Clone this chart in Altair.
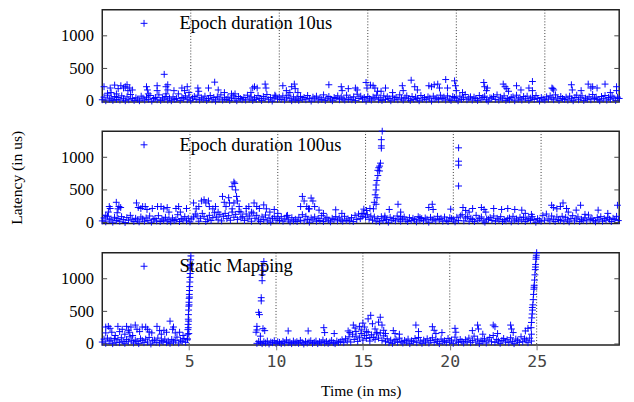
import altair as alt
import pandas as pd

PLUS = "M-1,0H1M0,-1V1"
STEP = 0.1
W, H = 532, 95
X_TICKS = [5, 10, 15, 20, 25]
Y_TICKS = [0, 500, 1000]
Y_DOMAIN = [-15, 1400]
NAMES = ["Epoch duration 10us", "Epoch duration 100us", "Static Mapping"]
X_DOMAINS = [[0, 29.2], [0, 29.45], [0, 29.75]]

# ---------- panel 1 : Epoch duration 10us ----------
p1_base = [
    20, 60, 5, 90, 30, 45, 10, 70, 25, 55,
    15, 80, 35, 5, 65, 20, 100, 40, 10, 50,
    30, 5, 75, 45, 15, 60, 25, 85, 0, 40,
    55, 20, 95, 10, 50, 30, 70, 15, 45, 5,
    65, 25, 40, 110, 10, 55, 35, 80, 20, 60,
    5, 45, 70, 25, 90, 15, 50, 30, 75, 10,
    40, 85, 20, 55, 0, 65, 30, 95, 15, 50,
    25, 60, 10, 45, 80, 35, 5, 70, 40, 20,
    55, 15, 90, 30, 65, 10, 50, 25, 85, 40,
    10, 70, 35, 100, 20, 55, 0, 45, 75, 30,
    60, 25, 80, 15, 50, 90, 35, 5, 65, 20,
    45, 10, 70, 30, 55, 20, 85, 40, 0, 60,
    35, 75, 15, 50, 25, 95, 10, 45, 70, 30,
    5, 55, 40, 80, 20, 60, 35, 15, 90, 25,
    50, 20, 65, 10, 105, 40, 75, 30, 55, 0,
    70, 35, 15, 60, 45, 90, 20, 50, 10, 80,
    25, 65, 40, 5, 75, 30, 55, 20, 95, 45,
    15, 50, 80, 35, 10, 70, 25, 60, 40, 5,
    85, 30, 55, 20, 65, 45, 0, 75, 35, 50,
    20, 90, 40, 60, 15, 80, 30, 10, 70, 55,
    35, 5, 75, 25, 50, 100, 20, 45, 65, 15,
    60, 40, 10, 85, 30, 55, 75, 20, 0, 50,
    45, 70, 25, 95, 15, 60, 35, 80, 10, 40,
    20, 55, 65, 5, 90, 30, 50, 15, 70, 35,
    75, 10, 45, 60, 25, 85, 40, 0, 55, 30,
    15, 65, 30, 80, 50, 20, 95, 45, 10, 70,
    40, 25, 60, 15, 75, 35, 5, 55, 90, 20,
    50, 80, 10, 45, 30, 65, 20, 100, 40, 60,
    25, 5, 70, 35, 85, 15, 55, 30, 75, 45,
    10, 60, 40,
]
p1_spikes = [
    (0.1, 220), (0.3, 120), (0.45, 200), (0.7, 245), (0.9, 190), (1.05, 235),
    (1.2, 200), (1.3, 220), (1.45, 160), (1.4, 250), (1.55, 200), (1.7, 170),
    (0.5, 130), (0.8, 110), (2.5, 220), (2.55, 170), (2.6, 110), (3.1, 235),
    (3.1, 160), (3.5, 410), (3.6, 220), (3.7, 250), (3.7, 170), (3.6, 110),
    (4.05, 160), (4.5, 200), (4.65, 160), (4.8, 220), (4.9, 130), (5.4, 200),
    (5.45, 150), (6.0, 200), (6.35, 290), (6.55, 170), (6.9, 130), (7.3, 110),
    (7.5, 110), (8.5, 200), (8.6, 220), (8.75, 200), (8.4, 130), (9.2, 260),
    (9.25, 200), (9.75, 90), (10.2, 235), (10.4, 160), (10.7, 220), (10.85, 260),
    (11.05, 130), (10.9, 190), (10.6, 130), (12.8, 250), (13.5, 220), (13.55, 160),
    (13.9, 190), (14.3, 200), (14.4, 170), (14.9, 285), (14.95, 200), (15.15, 245),
    (15.3, 235), (15.4, 200), (15.55, 150), (15.75, 150), (16.0, 200), (16.4, 130),
    (16.95, 235), (17.0, 160), (17.45, 320), (17.65, 220), (17.8, 170), (18.45, 235),
    (18.6, 220), (18.75, 250), (18.95, 260), (19.05, 200), (19.4, 330), (19.5, 200),
    (19.9, 310), (19.95, 235), (20.0, 160), (20.35, 130), (21.55, 285), (21.6, 220),
    (21.7, 160), (21.75, 200), (22.65, 260), (22.75, 220), (22.85, 190), (22.95, 150),
    (23.4, 235), (23.65, 170), (24.1, 200), (24.3, 300), (24.3, 160), (25.4, 200),
    (25.5, 170), (25.45, 190), (26.5, 250), (26.55, 170), (27.05, 160), (27.45, 260),
    (27.6, 200), (27.7, 220), (27.95, 200), (28.4, 260), (28.7, 130), (29.05, 220),
    (29.05, 160),
]

# ---------- panel 2 : Epoch duration 100us ----------
p2_base = [
    25, 70, 10, 95, 40, 55, 5, 80, 30, 60,
    20, 90, 45, 0, 75, 35, 110, 50, 15, 65,
    40, 10, 85, 55, 20, 70, 30, 100, 5, 50,
    60, 25, 105, 15, 55, 35, 80, 20, 50, 10,
    70, 30, 45, 120, 15, 60, 40, 90, 25, 65,
    10, 55, 85, 130, 100, 20, 65, 140, 90, 15,
    50, 110, 30, 75, 150, 85, 40, 120, 25, 95,
    140, 60, 105, 35, 160, 80, 125, 45, 170, 70,
    90, 30, 130, 55, 100, 20, 145, 65, 110, 40,
    15, 85, 45, 115, 25, 70, 5, 60, 95, 35,
    65, 30, 90, 20, 55, 100, 40, 10, 75, 25,
    50, 15, 80, 35, 120, 25, 95, 45, 5, 70,
    40, 85, 20, 60, 30, 105, 15, 55, 80, 35,
    10, 65, 45, 90, 25, 70, 40, 20, 95, 30,
    55, 25, 75, 15, 110, 45, 130, 60, 90, 140,
    80, 120, 50, 100, 35, 85, 20, 60, 10, 90,
    30, 70, 45, 5, 80, 35, 60, 25, 100, 50,
    20, 55, 85, 40, 15, 75, 30, 65, 45, 10,
    90, 35, 60, 25, 70, 50, 5, 80, 40, 55,
    25, 95, 45, 65, 20, 85, 35, 15, 75, 60,
    40, 10, 80, 30, 100, 120, 25, 70, 90, 20,
    65, 45, 15, 110, 35, 60, 85, 25, 5, 55,
    50, 75, 30, 100, 20, 65, 40, 90, 15, 45,
    25, 60, 70, 10, 95, 35, 55, 20, 80, 40,
    80, 15, 50, 65, 30, 90, 45, 5, 60, 35,
    20, 110, 35, 130, 55, 25, 100, 50, 15, 85,
    45, 30, 95, 20, 80, 40, 10, 60, 105, 25,
    55, 85, 15, 50, 35, 70, 25, 115, 45, 65,
    30, 10, 75, 40, 90, 20, 60, 35, 80, 50,
    15, 65, 45, 95, 30,
]
p2_spikes = [
    (0.2, 110), (0.4, 245), (0.45, 215), (0.35, 160), (0.8, 310), (0.9, 210),
    (0.95, 245), (1.05, 230), (0.85, 150), (1.95, 300), (2.05, 230), (2.2, 215),
    (2.3, 245), (2.45, 245), (2.55, 200), (2.85, 215), (3.15, 245), (3.35, 245),
    (3.5, 210), (3.7, 230), (3.8, 160), (4.2, 215), (4.35, 245), (4.45, 160),
    (4.8, 215), (5.2, 300), (5.35, 210), (5.5, 245), (5.65, 330), (5.8, 350),
    (5.9, 300), (6.05, 330), (6.1, 245), (6.3, 210), (6.45, 245), (6.6, 160),
    (6.85, 400), (6.95, 310), (7.05, 245), (7.2, 380), (7.25, 300), (7.4, 550),
    (7.5, 620), (7.55, 600), (7.6, 500), (7.65, 400), (7.7, 330), (7.5, 300),
    (7.4, 210), (7.8, 245), (7.9, 160), (8.2, 215), (8.35, 245), (8.5, 160),
    (8.65, 300), (8.8, 245), (8.95, 215), (9.2, 270), (9.35, 210), (9.55, 160),
    (9.8, 200), (10.0, 140), (10.55, 110), (11.3, 245), (11.4, 400), (11.5, 330),
    (11.65, 245), (11.8, 210), (11.9, 375), (12.0, 330), (12.1, 245), (11.75, 210),
    (12.35, 190), (12.6, 140), (13.3, 195), (13.65, 140), (14.9, 205), (15.05, 185),
    (15.25, 215), (14.8, 140), (15.45, 210), (15.5, 310), (15.55, 425), (15.6, 500),
    (15.6, 575), (15.65, 645), (15.7, 720), (15.7, 800), (15.75, 840), (15.8, 865),
    (15.85, 910), (15.8, 790), (15.65, 380), (15.6, 280), (15.9, 1175), (15.9, 1270),
    (15.95, 1400), (15.9, 1140), (16.1, 100), (16.35, 200), (16.85, 280), (17.0, 160),
    (17.0, 90), (18.1, 75), (18.6, 230), (18.8, 280), (18.85, 200), (19.85, 205),
    (20.3, 1145), (20.3, 940), (20.3, 880), (20.3, 560), (20.55, 230), (20.7, 185),
    (20.9, 160), (21.1, 215), (21.6, 230), (21.75, 200), (21.85, 160), (22.3, 215),
    (22.75, 200), (23.1, 215), (23.5, 200), (23.9, 190), (24.1, 140), (24.45, 125),
    (25.6, 265), (25.7, 230), (25.9, 210), (26.1, 245), (26.25, 300), (26.45, 215),
    (26.55, 160), (27.0, 190), (27.25, 265), (27.5, 125), (28.25, 190), (28.8, 140),
    (29.35, 265),
]

# ---------- panel 3 : Static Mapping ----------
p3_base_a_start = 0.0
p3_base_a = [
    30, 75, 10, 90, 45, 60, 5, 85, 25, 65,
    20, 95, 40, 10, 70, 35, 110, 50, 15, 60,
    40, 5, 80, 55, 20, 75, 30, 100, 0, 50,
    60, 25, 90, 15, 55, 35, 75, 20, 45, 10,
    70, 30, 50, 105, 15, 60, 40, 85, 25, 65,
]
p3_base_b_start = 8.9
p3_base_b = [
    10, 40, 25, 5, 35, 15, 45, 0, 30, 20,
    50, 10, 35, 25, 5, 40, 15, 60, 20, 30,
    5, 45, 20, 35, 10, 55, 25, 0, 40, 15,
    30, 50, 10, 25, 45, 5, 35, 20, 60, 15,
    40, 10, 30, 55, 20, 5, 45, 25, 35, 65,
    20, 80, 45, 110, 30, 150, 70, 120, 40, 95,
    160, 60, 130, 85, 180, 45, 140, 100, 70, 155,
    90, 170, 55, 125, 35, 80, 20, 60, 10, 45,
    70, 25, 90, 40, 15, 55, 30, 75, 5, 50,
    35, 85, 20, 100, 45, 10, 60, 30, 80, 15,
    55, 95, 25, 65, 40, 5, 75, 35, 50, 20,
    85, 30, 60, 10, 105, 45, 25, 70, 40, 15,
    65, 35, 90, 20, 55, 120, 30, 75, 5, 50,
    40, 80, 15, 60, 100, 35, 130, 25, 70, 45,
    10, 55, 85, 30, 65, 20, 95, 40, 5, 75,
    50, 25, 110, 35, 80, 60, 20, 90, 45,
]
p3_spikes = [
    (0.2, 260), (0.35, 270), (0.45, 240), (0.2, 170), (0.55, 180), (0.75, 130),
    (0.9, 270), (1.0, 190), (1.15, 225), (1.3, 150), (1.4, 270), (1.5, 210),
    (1.55, 180), (1.65, 260), (1.75, 130), (1.9, 290), (2.0, 225), (2.15, 190),
    (2.3, 260), (2.5, 260), (2.6, 225), (2.7, 185), (2.85, 170), (3.15, 270),
    (3.3, 205), (3.4, 150), (3.55, 210), (3.7, 180), (3.9, 350), (4.05, 225),
    (4.1, 260), (4.2, 170), (4.45, 180), (4.65, 130),
    (4.9, 80), (4.92, 150), (4.93, 220), (4.94, 300), (4.95, 380), (4.96, 450),
    (4.97, 520), (4.98, 580), (4.99, 640), (5.0, 700), (5.01, 760), (5.02, 820),
    (5.03, 880), (5.04, 950), (5.05, 1020), (5.06, 1080), (5.07, 1150), (5.08, 1220),
    (5.09, 1290), (5.1, 1350), (4.95, 250), (4.97, 350), (5.0, 600), (5.02, 720),
    (5.05, 1200), (4.98, 160),
    (8.9, 215), (8.85, 180), (8.9, 270), (9.0, 485), (9.05, 450), (9.15, 710),
    (9.15, 660), (9.2, 970), (9.2, 1060), (9.25, 1130), (9.3, 1265), (9.2, 1200),
    (9.25, 235), (9.35, 205), (9.1, 120),
    (10.7, 200), (11.85, 200), (12.75, 250), (12.8, 175), (13.35, 160),
    (14.15, 200), (14.25, 175), (14.45, 290), (14.55, 245), (14.6, 190), (14.8, 270),
    (14.9, 215), (15.0, 320), (15.1, 260), (15.2, 190), (15.3, 385), (15.45, 440),
    (15.55, 310), (15.7, 230), (15.8, 175), (15.9, 335), (16.0, 410), (16.1, 290),
    (16.2, 210), (16.3, 160), (15.4, 100), (16.75, 205), (16.85, 160), (17.1, 150),
    (18.05, 290), (18.2, 190), (19.0, 265), (19.1, 210), (19.2, 160), (19.55, 175),
    (20.3, 240), (20.35, 180), (21.3, 205), (21.6, 290), (21.65, 230), (21.9, 150),
    (22.5, 290), (22.6, 265), (22.75, 160), (23.5, 290), (23.55, 230), (23.65, 175),
    (24.35, 200), (24.5, 240),
    (24.68, 250), (24.7, 330), (24.72, 400), (24.74, 460), (24.76, 520), (24.78, 600),
    (24.8, 680), (24.82, 760), (24.84, 840), (24.86, 900), (24.88, 980), (24.9, 1060),
    (24.92, 1140), (24.94, 1220), (24.96, 1300), (24.98, 1360), (25.0, 1400),
    (24.75, 560), (24.85, 870), (24.93, 1180), (24.97, 1330), (24.7, 150),
]


def build(segments, spikes, name):
    rows = []
    for start, vals in segments:
        for i, v in enumerate(vals):
            rows.append((round(start + i * STEP, 3), v))
    rows += list(spikes)
    df = pd.DataFrame(rows, columns=["t", "v"])
    df["series"] = name
    return df


dfs = [
    build([(0.0, p1_base)], p1_spikes, NAMES[0]),
    build([(0.0, p2_base)], p2_spikes, NAMES[1]),
    build([(p3_base_a_start, p3_base_a), (p3_base_b_start, p3_base_b)], p3_spikes, NAMES[2]),
]

SERIF = "Liberation Serif"


def panel(i):
    name = NAMES[i]
    bottom = i == 2
    middle = i == 1
    xscale = alt.Scale(domain=X_DOMAINS[i], nice=False, zero=False)
    yscale = alt.Scale(domain=Y_DOMAIN, nice=False, zero=False)
    if bottom:
        xaxis = alt.Axis(values=X_TICKS, grid=False, domain=False, ticks=True, tickSize=5,
                         tickColor="#777", labels=True, labelFont="DejaVu Sans Mono",
                         labelFontSize=17, labelColor="#444", labelPadding=4, format="d",
                         title="Time (in ms)", titleY=52, titleBaseline="alphabetic",
                         titleFont=SERIF, titleFontSize=16, titleFontWeight="normal",
                         titleColor="black")
    else:
        xaxis = None
    ykw = dict(values=Y_TICKS, grid=False, domain=False, ticks=False, labelPadding=9,
               format="d", labelFont=SERIF, labelFontSize=17, labelColor="black")
    if middle:
        yaxis = alt.Axis(title="Latency (in us)", titleX=-83, titleY=H / 2,
                         titleAngle=270, titleBaseline="alphabetic", titleAlign="center",
                         titleFont=SERIF, titleFontSize=16, titleFontWeight="normal",
                         titleColor="black", **ykw)
    else:
        yaxis = alt.Axis(title=None, **ykw)

    grid_df = pd.DataFrame({"t": X_TICKS})
    grid = alt.Chart(grid_df).mark_rule(color="#333", strokeWidth=1, strokeDash=[1, 2]).encode(
        x=alt.X("t:Q", scale=xscale, axis=xaxis))

    pts = alt.Chart(dfs[i]).mark_point(
        shape=PLUS, filled=False, strokeWidth=1, size=50, opacity=1
    ).encode(
        x=alt.X("t:Q", scale=xscale, axis=xaxis),
        y=alt.Y("v:Q", scale=yscale, axis=yaxis),
        color=alt.Color("series:N", scale=alt.Scale(domain=[name], range=["#0000ff"]),
                        legend=alt.Legend(orient="none", legendX=33.5, legendY=4.5, title=None,
                                          padding=0, symbolType=PLUS, symbolSize=50,
                                          symbolStrokeWidth=1, labelFont=SERIF,
                                          labelFontSize=19, labelColor="black", labelOffset=27,
                                          labelLimit=400)),
    )
    tick_df = pd.DataFrame({"v": Y_TICKS})
    left = alt.Chart(tick_df).mark_rule(color="#444", strokeWidth=1).encode(
        y=alt.Y("v:Q", scale=yscale, axis=yaxis), x=alt.value(0), x2=alt.value(5))
    right = alt.Chart(tick_df).mark_rule(color="#444", strokeWidth=1).encode(
        y=alt.Y("v:Q", scale=yscale, axis=yaxis), x=alt.value(W - 5), x2=alt.value(W))
    return alt.layer(grid, pts, left, right).properties(width=W, height=H)


chart = alt.vconcat(panel(0), panel(1), panel(2), spacing=30, bounds="flush").resolve_scale(
    color="independent", x="independent", y="independent"
).properties(
    padding={"left": 0, "top": -6, "right": 0, "bottom": 0},
    background="white",
).configure_view(
    stroke="#222", strokeWidth=1.5
)

chart.save("out.html", embed_options={"renderer": "svg", "actions": False})
